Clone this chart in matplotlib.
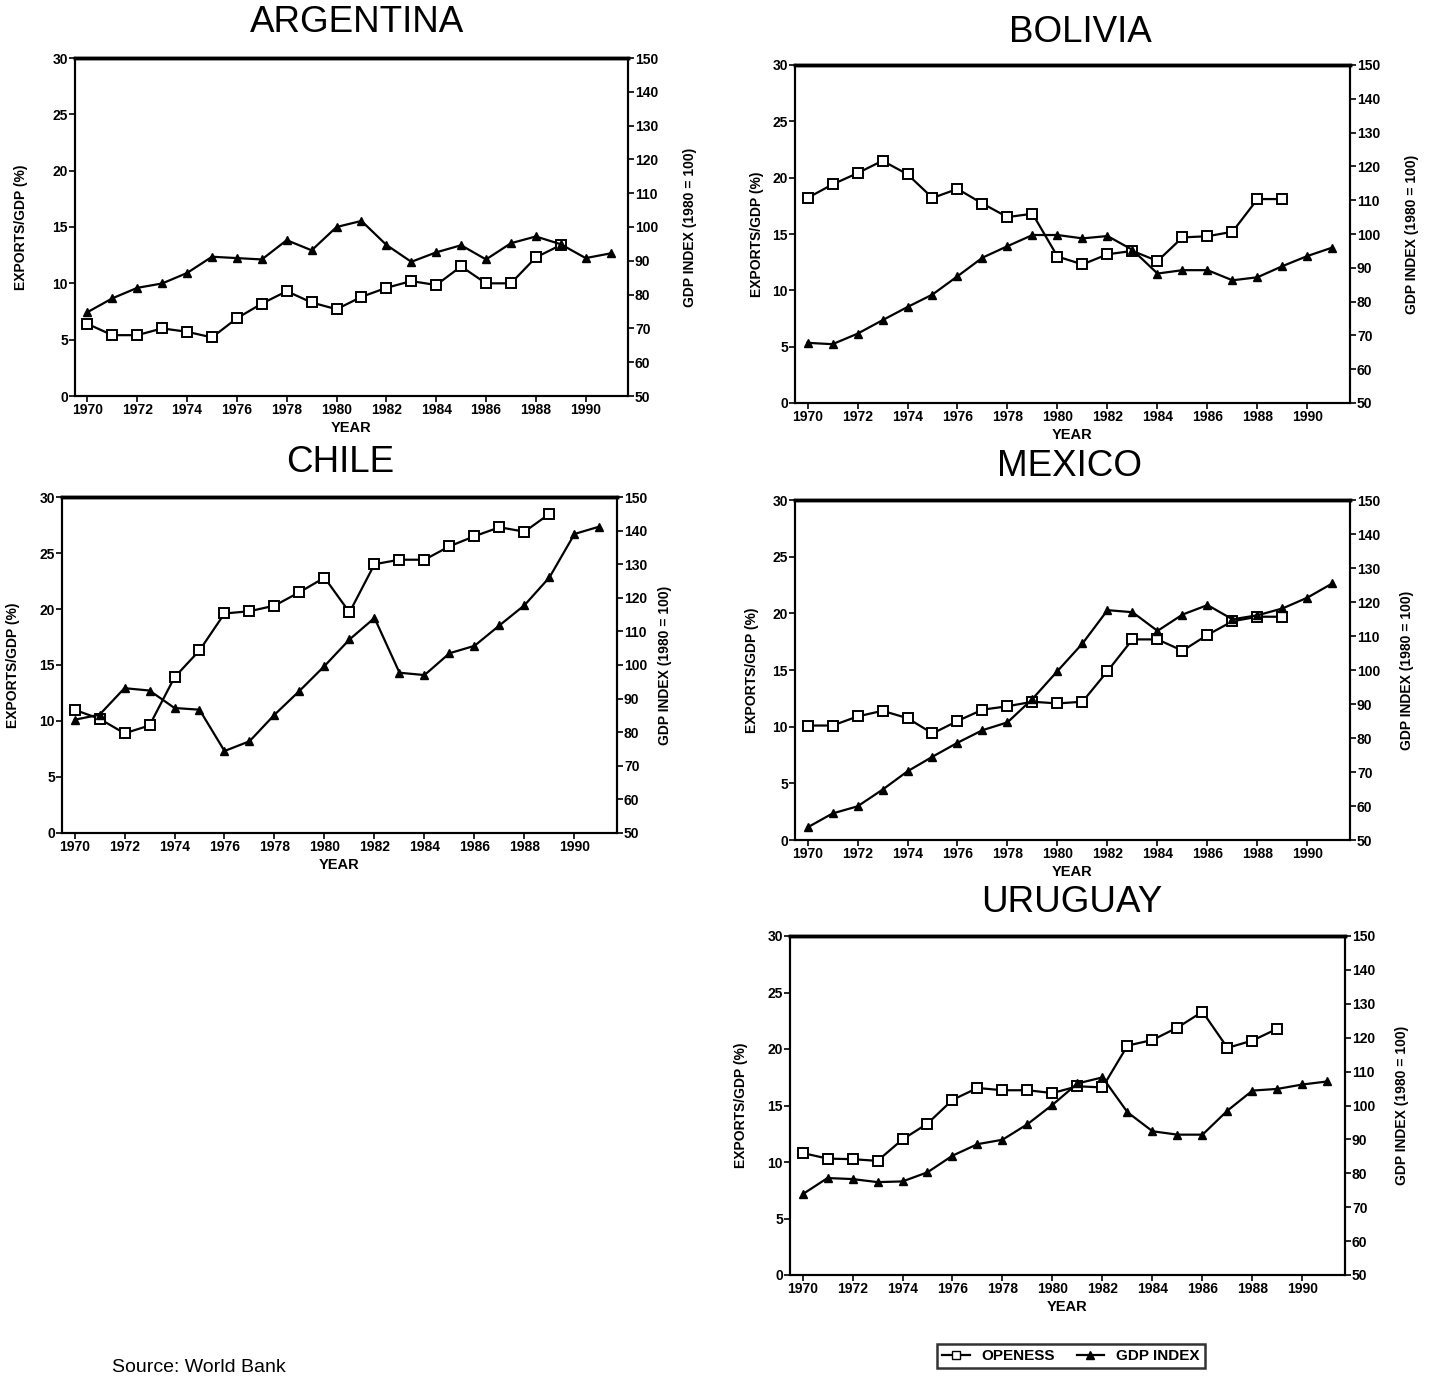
import numpy as np
import matplotlib
matplotlib.use("Agg")
import matplotlib.pyplot as plt
from matplotlib.lines import Line2D

plt.rcParams['font.family'] = ['Liberation Sans', 'DejaVu Sans']

years = list(range(1970, 1992))
open_years = list(range(1970, 1990))

# exports/GDP (%), 1970-1989
arg_open = [6.4, 5.4, 5.4, 6.0, 5.7, 5.2, 6.9, 8.2, 9.3, 8.3, 7.7, 8.8, 9.6, 10.2, 9.85, 11.5, 10.0, 10.0, 12.3, 13.4]
bol_open = [18.2, 19.4, 20.4, 21.5, 20.3, 18.2, 19.0, 17.7, 16.5, 16.8, 13.0, 12.3, 13.2, 13.5, 12.6, 14.7, 14.8, 15.2, 18.1, 18.1]
chl_open = [11.0, 10.2, 8.9, 9.6, 13.9, 16.3, 19.6, 19.8, 20.3, 21.5, 22.8, 19.7, 24.0, 24.4, 24.4, 25.6, 26.5, 27.3, 26.9, 28.5]
mex_open = [10.1, 10.1, 10.9, 11.4, 10.75, 9.4, 10.5, 11.5, 11.8, 12.2, 12.05, 12.2, 14.9, 17.7, 17.7, 16.7, 18.1, 19.3, 19.7, 19.7]
uru_open = [10.8, 10.3, 10.25, 10.1, 12.0, 13.4, 15.5, 16.55, 16.35, 16.35, 16.1, 16.7, 16.6, 20.3, 20.8, 21.9, 23.3, 20.1, 20.75, 21.8]

# GDP index (1980 = 100), 1970-1991
arg_gdp = [74.8, 78.9, 82.0, 83.3, 86.4, 91.2, 90.8, 90.4, 96.1, 93.1, 100.0, 101.8, 94.7, 89.7, 92.5, 94.6, 90.4, 95.2, 97.2, 94.9, 90.8, 92.2]
bol_gdp = [67.8, 67.4, 70.5, 74.5, 78.4, 82.1, 87.5, 93.0, 96.4, 99.7, 99.7, 98.7, 99.4, 95.3, 88.3, 89.3, 89.3, 86.3, 87.2, 90.5, 93.5, 96.0]
chl_gdp = [83.7, 85.2, 93.1, 92.4, 87.2, 86.7, 74.4, 77.3, 85.2, 92.3, 99.7, 107.6, 114.0, 97.7, 97.0, 103.5, 105.7, 111.8, 117.8, 126.1, 139.0, 141.2]
mex_gdp = [53.7, 57.8, 59.9, 64.8, 70.2, 74.5, 78.6, 82.3, 84.6, 91.5, 99.7, 107.8, 117.6, 117.0, 111.5, 116.3, 119.1, 114.9, 116.1, 118.1, 121.3, 125.5]
uru_gdp = [73.8, 78.6, 78.3, 77.4, 77.6, 80.3, 85.2, 88.6, 89.9, 94.5, 100.2, 106.5, 108.3, 98.0, 92.4, 91.4, 91.4, 98.5, 104.4, 104.9, 106.2, 107.1]

W, H = 1431, 1379


def rect(l, r, t, b):
    return [l / W, 1 - b / H, (r - l) / W, (b - t) / H]


def panel(fig, box, title, title_xy, op, gdp, lpad=10, rpad=14):
    ax = fig.add_axes(rect(*box))
    ax2 = ax.twinx()
    ax.plot(open_years, op, color='black', lw=1.6, marker='s', ms=6.5,
            mfc='white', mec='black', mew=1.4, zorder=3)
    ax2.plot(years, gdp, color='black', lw=1.6, marker='^', ms=6,
             mfc='black', mec='black', zorder=3)
    ax.set_xlim(1969.5, 1991.7)
    ax.set_ylim(0, 30)
    ax2.set_ylim(50, 150)
    ax.set_xticks(range(1970, 1992, 2))
    ax.set_yticks(range(0, 31, 5))
    ax2.set_yticks(range(50, 151, 10))
    for a in (ax, ax2):
        a.tick_params(direction='out', length=4, width=1.2, labelsize=10, pad=1)
        for lab in a.get_xticklabels() + a.get_yticklabels():
            lab.set_fontweight('bold')
        for s in a.spines.values():
            s.set_linewidth(1.5)
        a.spines['top'].set_linewidth(2.5)
    ax.set_xlabel('YEAR', fontsize=10.5, fontweight='bold', labelpad=3)
    ax.set_ylabel('EXPORTS/GDP (%)', fontsize=10, fontweight='bold', labelpad=lpad)
    ax2.set_ylabel('GDP INDEX (1980 = 100)', fontsize=10, fontweight='bold', labelpad=rpad)
    fig.text(title_xy[0] / W, 1 - title_xy[1] / H, title, fontsize=26.5,
             ha='center', va='center')
    return ax


fig = plt.figure(figsize=(W / 100, H / 100), dpi=100)

panel(fig, (75, 628, 58, 396), 'ARGENTINA', (357, 22), arg_open, arg_gdp, lpad=18, rpad=18)
panel(fig, (795, 1350, 65, 403), 'BOLIVIA', (1080, 33), bol_open, bol_gdp, lpad=6, rpad=18)
panel(fig, (62, 617, 497, 833), 'CHILE', (340, 462), chl_open, chl_gdp, lpad=14, rpad=8)
panel(fig, (795, 1350, 500, 840), 'MEXICO', (1070, 467), mex_open, mex_gdp, lpad=10, rpad=14)
panel(fig, (790, 1345, 936, 1275), 'URUGUAY', (1072, 902), uru_open, uru_gdp, lpad=14, rpad=14)

handles = [
    Line2D([], [], color='black', lw=1.6, marker='s', ms=6, mfc='white', mec='black'),
    Line2D([], [], color='black', lw=1.6, marker='^', ms=6, mfc='black'),
]
leg = fig.legend(handles, ['OPENESS', 'GDP INDEX'], loc='center',
                 bbox_to_anchor=(1071 / W, 1 - 1356 / H), ncol=2, frameon=True,
                 fancybox=False, edgecolor='black', handlelength=1.8,
                 columnspacing=1.4, borderpad=0.35, prop={'weight': 'bold', 'size': 11})
leg.get_frame().set_linewidth(1.8)

fig.text(112 / W, 1 - 1376 / H, 'Source: World Bank', fontsize=14, ha='left', va='bottom')

fig.savefig('out.png', dpi=100, facecolor='white')
